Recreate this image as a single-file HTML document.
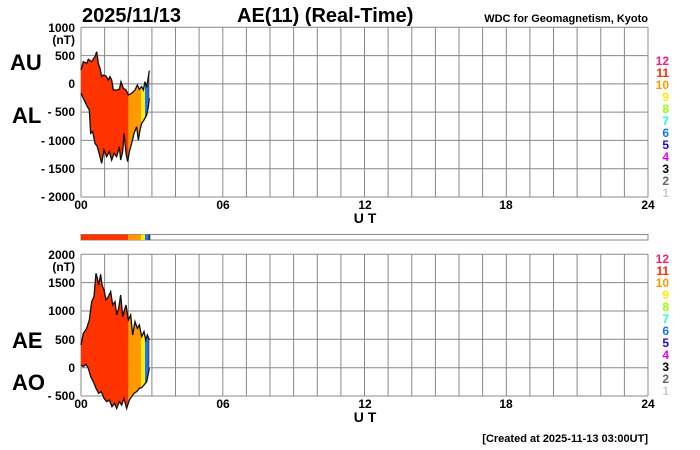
<!DOCTYPE html>
<html><head><meta charset="utf-8"><style>
html,body{margin:0;padding:0;background:#fff;}
svg{display:block;font-family:"Liberation Sans",Arial,sans-serif;font-weight:bold;}
</style></head><body>
<svg id="s" width="700" height="450" viewBox="0 0 700 450" xmlns="http://www.w3.org/2000/svg">
<defs>
<clipPath id="c1"><polygon transform="scale(0.33333)" points="243,210 250,185 260,190 265,178 275,185 285,170 290,155 295,190 300,205 305,230 310,225 318,228 325,240 330,230 335,240 340,270 350,270 358,268 363,245 370,265 378,270 385,285 395,280 405,270 412,255 418,268 425,260 430,270 435,245 440,262 448,212 448,295 445,320 440,345 432,360 425,370 420,390 415,420 410,380 402,400 395,430 388,455 383,485 378,460 372,400 368,455 362,480 358,440 350,470 342,460 335,480 328,455 320,470 312,450 305,490 300,470 292,440 285,430 278,395 272,400 268,330 262,320 250,295 243,280"/></clipPath>
<clipPath id="c2"><polygon transform="translate(0,225) scale(0.33333)" points="243,360 250,325 260,310 268,285 275,230 282,215 288,145 292,160 296,180 302,148 306,180 312,195 318,225 325,215 332,200 338,240 345,230 350,270 356,250 362,210 368,275 372,260 378,240 385,285 392,270 398,330 405,290 412,310 418,300 425,335 432,320 437,345 442,330 448,345 448,430 446,440 440,470 432,480 425,488 418,490 410,500 402,505 395,515 388,525 380,550 372,520 365,540 358,530 350,550 344,535 336,545 328,525 320,530 312,520 304,500 296,505 288,490 280,470 272,455 265,430 258,418 250,425 243,420"/></clipPath>
</defs>
<g id="grid" stroke="#888" stroke-width="1" fill="none"></g>
<g clip-path="url(#c1)">
<rect x="81" y="20" width="47.3" height="180" fill="#ff3300"/>
<rect x="128.3" y="20" width="12.7" height="180" fill="#ff9900"/>
<rect x="141" y="20" width="4" height="180" fill="#ffee00"/>
<rect x="145" y="20" width="3.3" height="180" fill="#1177ff"/>
<rect x="148.3" y="20" width="3" height="180" fill="#333"/>
</g>
<polyline transform="scale(0.33333)" fill="none" stroke="#111" stroke-width="4" points="243,210 250,185 260,190 265,178 275,185 285,170 290,155 295,190 300,205 305,230 310,225 318,228 325,240 330,230 335,240 340,270 350,270 358,268 363,245 370,265 378,270 385,285 395,280 405,270 412,255 418,268 425,260 430,270 435,245 440,262 448,212"/>
<polyline transform="scale(0.33333)" fill="none" stroke="#111" stroke-width="4" points="243,280 250,295 262,320 268,330 272,400 278,395 285,430 292,440 300,470 305,490 312,450 320,470 328,455 335,480 342,460 350,470 358,440 362,480 368,455 372,400 378,460 383,485 388,455 395,430 402,400 410,380 415,420 420,390 425,370 432,360 440,345 445,320 448,295"/>
<g clip-path="url(#c2)">
<rect x="81" y="240" width="47.3" height="170" fill="#ff3300"/>
<rect x="128.3" y="240" width="12.7" height="170" fill="#ff9900"/>
<rect x="141" y="240" width="4" height="170" fill="#ffee00"/>
<rect x="145" y="240" width="3.3" height="170" fill="#1177ff"/>
<rect x="148.3" y="240" width="3" height="170" fill="#333"/>
</g>
<polyline transform="translate(0,225) scale(0.33333)" fill="none" stroke="#111" stroke-width="4" points="243,360 250,325 260,310 268,285 275,230 282,215 288,145 292,160 296,180 302,148 306,180 312,195 318,225 325,215 332,200 338,240 345,230 350,270 356,250 362,210 368,275 372,260 378,240 385,285 392,270 398,330 405,290 412,310 418,300 425,335 432,320 437,345 442,330 448,345"/>
<polyline transform="translate(0,225) scale(0.33333)" fill="none" stroke="#111" stroke-width="4" points="243,420 250,425 258,418 265,430 272,455 280,470 288,490 296,505 304,500 312,520 320,530 328,525 336,545 344,535 350,550 358,530 365,540 372,520 380,550 388,525 395,515 402,505 410,500 418,490 425,488 432,480 440,470 446,440 448,430"/>
<!-- color bar -->
<rect x="81" y="234.5" width="567" height="5.5" fill="#fff" stroke="#888"/>
<rect x="81" y="234.5" width="47.3" height="5.5" fill="#ff3300"/>
<rect x="128.3" y="234.5" width="12.7" height="5.5" fill="#ff9900"/>
<rect x="141" y="234.5" width="4" height="5.5" fill="#ffee00"/>
<rect x="145" y="234.5" width="3.3" height="5.5" fill="#1177ff"/>
<rect x="148.3" y="234.5" width="2" height="5.5" fill="#333"/>
<!-- titles -->
<text x="82" y="22" font-size="20">2025/11/13</text>
<text x="237" y="22" font-size="20">AE(11) (Real-Time)</text>
<text x="648" y="22" font-size="11" text-anchor="end">WDC for Geomagnetism, Kyoto</text>
<text x="10" y="70" font-size="22">AU</text>
<text x="12" y="123" font-size="22">AL</text>
<text x="12" y="348" font-size="22">AE</text>
<text x="12" y="390" font-size="22">AO</text>
<g font-size="12" text-anchor="end">
<text x="75" y="32">1000</text><text x="75" y="44">(nT)</text>
<text x="75" y="60">500</text><text x="75" y="88">0</text>
<text x="75" y="116">- 500</text><text x="75" y="145">- 1000</text>
<text x="75" y="173">- 1500</text><text x="75" y="201">- 2000</text>
<text x="75" y="259">2000</text><text x="75" y="271">(nT)</text>
<text x="75" y="287">1500</text><text x="75" y="315">1000</text>
<text x="75" y="344">500</text><text x="75" y="372">0</text>
<text x="75" y="400">- 500</text>
</g>
<g font-size="12" text-anchor="middle">
<text x="81" y="209">00</text><text x="223" y="209">06</text><text x="365" y="209">12</text><text x="506" y="209">18</text><text x="648" y="209">24</text>
<text x="365" y="223" font-size="14">U T</text>
<text x="81" y="408">00</text><text x="223" y="408">06</text><text x="365" y="408">12</text><text x="506" y="408">18</text><text x="648" y="408">24</text>
<text x="365" y="422" font-size="14">U T</text>
</g>
<text x="648" y="442" font-size="11" text-anchor="end">[Created at 2025-11-13 03:00UT]</text>
<g font-size="12" text-anchor="end">
<text x="669" y="65" fill="#ff1a75">12</text><text x="669" y="77" fill="#ff2a00">11</text><text x="669" y="89" fill="#ff9900">10</text><text x="669" y="101" fill="#ffee00">9</text><text x="669" y="113" fill="#99ff00">8</text><text x="669" y="125" fill="#22ffcc">7</text><text x="669" y="137" fill="#1177ff">6</text><text x="669" y="149" fill="#2200ee">5</text><text x="669" y="161" fill="#ee00ee">4</text><text x="669" y="173" fill="#000">3</text><text x="669" y="185" fill="#666">2</text><text x="669" y="197" fill="#ccc">1</text>
<text x="669" y="263" fill="#ff1a75">12</text><text x="669" y="275" fill="#ff2a00">11</text><text x="669" y="287" fill="#ff9900">10</text><text x="669" y="299" fill="#ffee00">9</text><text x="669" y="311" fill="#99ff00">8</text><text x="669" y="323" fill="#22ffcc">7</text><text x="669" y="335" fill="#1177ff">6</text><text x="669" y="347" fill="#2200ee">5</text><text x="669" y="359" fill="#ee00ee">4</text><text x="669" y="371" fill="#000">3</text><text x="669" y="383" fill="#666">2</text><text x="669" y="395" fill="#ccc">1</text>
</g>
</svg>
<script>
var g=document.getElementById('grid'),s='';
var x0=81,x1=648,dx=(x1-x0)/24;
function grid(t,b,n){var dy=(b-t)/n;
for(var i=0;i<=24;i++){var x=(x0+i*dx).toFixed(1);s+='<line x1="'+x+'" y1="'+t+'" x2="'+x+'" y2="'+b+'"/>';}
for(var j=0;j<=n;j++){var y=(t+j*dy).toFixed(1);s+='<line x1="'+x0+'" y1="'+y+'" x2="'+x1+'" y2="'+y+'"/>';}}
grid(27.3,197,6);grid(254.3,396,5);
g.innerHTML=s;
</script>
</body></html>
